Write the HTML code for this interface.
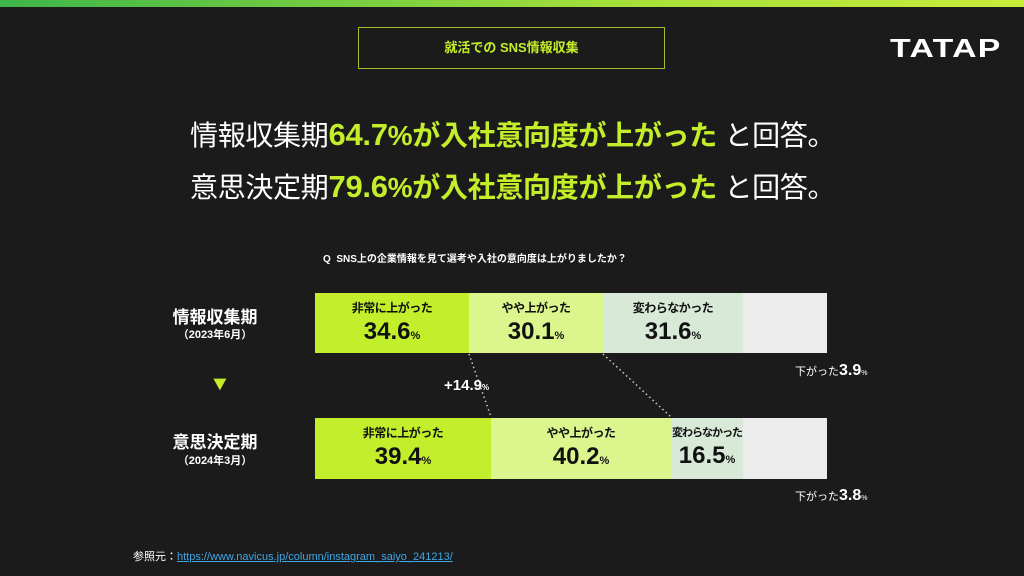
<!DOCTYPE html>
<html><head><meta charset="utf-8"><style>
body{margin:0;width:1024px;height:576px;background:#1b1b1b;overflow:hidden;position:relative;font-family:"Liberation Sans","Noto Sans CJK JP",sans-serif;color:#fff}
.a{position:absolute;white-space:nowrap}
.seg{position:absolute;text-align:center;color:#111;white-space:nowrap}
.seg .l{font-size:12px;font-weight:bold;margin-top:6px;letter-spacing:-0.5px}
.seg .v{font-size:24px;font-weight:bold;margin-top:1px;line-height:30px}
.seg .v small{font-size:11px}
.g{color:#c4ee2a;font-weight:bold}
</style></head><body>
<div class="a" style="left:0;top:0;width:1024px;height:7px;background:linear-gradient(90deg,#3db649,#a4e03a 60%,#c8ec3a)"></div>
<div class="a" style="left:358px;top:27px;width:305px;height:40px;border:1.5px solid #9ec12c;text-align:center;line-height:40px;color:#c4ee2a;font-size:13px;font-weight:bold">就活での SNS情報収集</div>
<div class="a" style="left:890px;top:33px;font-size:26px;font-weight:bold;letter-spacing:1px;transform:scaleX(1.3);transform-origin:left top">TATAP</div>
<div class="a" style="left:190px;top:115px;font-size:28px;line-height:40px;letter-spacing:-0.3px">情報収集期<span class="g" style="font-size:31px">64.7</span><span class="g">%が入社意向度が上がった</span> と回答。</div>
<div class="a" style="left:190px;top:167px;font-size:28px;line-height:40px;letter-spacing:-0.3px">意思決定期<span class="g" style="font-size:31px">79.6</span><span class="g">%が入社意向度が上がった</span> と回答。</div>
<div class="a" style="left:323px;top:250px;font-size:10px;font-weight:bold">Q&nbsp; SNS上の企業情報を見て選考や入社の意向度は上がりましたか？</div>

<div class="a" style="left:150px;top:303px;width:130px;text-align:center;font-size:17px;font-weight:bold">情報収集期</div>
<div class="a" style="left:150px;top:326px;width:130px;text-align:center;font-size:11px;font-weight:bold">（2023年6月）</div>
<div class="a" style="left:210px;top:373px;font-size:20px;color:#c4ee2a;transform:scaleX(1.1)">▼</div>
<div class="a" style="left:150px;top:428px;width:130px;text-align:center;font-size:17px;font-weight:bold">意思決定期</div>
<div class="a" style="left:150px;top:452px;width:130px;text-align:center;font-size:11px;font-weight:bold">（2024年3月）</div>

<div class="seg" style="left:315px;top:293px;width:154px;height:60px;background:#c3ee2c"><div class="l">非常に上がった</div><div class="v">34.6<small>%</small></div></div>
<div class="seg" style="left:469px;top:293px;width:134px;height:60px;background:#dcf58d"><div class="l">やや上がった</div><div class="v">30.1<small>%</small></div></div>
<div class="seg" style="left:603px;top:293px;width:140px;height:60px;background:#d8e9d7"><div class="l">変わらなかった</div><div class="v">31.6<small>%</small></div></div>
<div class="seg" style="left:743px;top:293px;width:84px;height:60px;background:#ececec"></div>

<div class="seg" style="left:315px;top:418px;width:176px;height:61px;background:#c3ee2c"><div class="l">非常に上がった</div><div class="v">39.4<small>%</small></div></div>
<div class="seg" style="left:491px;top:418px;width:180px;height:61px;background:#dcf58d"><div class="l">やや上がった</div><div class="v">40.2<small>%</small></div></div>
<div class="seg" style="left:671px;top:418px;width:72px;height:61px;background:#d8e9d7"><div class="l" style="font-size:11px;letter-spacing:-1px">変わらなかった</div><div class="v">16.5<small>%</small></div></div>
<div class="seg" style="left:743px;top:418px;width:84px;height:61px;background:#ececec"></div>

<svg class="a" style="left:0;top:0" width="1024" height="576"><g stroke="#ccc" stroke-width="1.5" stroke-dasharray="1.5,3"><line x1="469" y1="354" x2="491" y2="417"/><line x1="603" y1="354" x2="671" y2="417"/></g></svg>

<div class="a" style="left:444px;top:377px;font-size:15px;font-weight:bold">+14.9<span style="font-size:8px">%</span></div>
<div class="a" style="left:795px;top:362px;font-size:11px">下がった<b style="font-size:16px">3.9</b><span style="font-size:7px">%</span></div>
<div class="a" style="left:795px;top:487px;font-size:11px">下がった<b style="font-size:16px">3.8</b><span style="font-size:7px">%</span></div>

<div class="a" style="left:133px;top:548px;font-size:11px">参照元：<span style="color:#3fa6e6;text-decoration:underline">https://www.navicus.jp/column/instagram_saiyo_241213/</span></div>
</body></html>
